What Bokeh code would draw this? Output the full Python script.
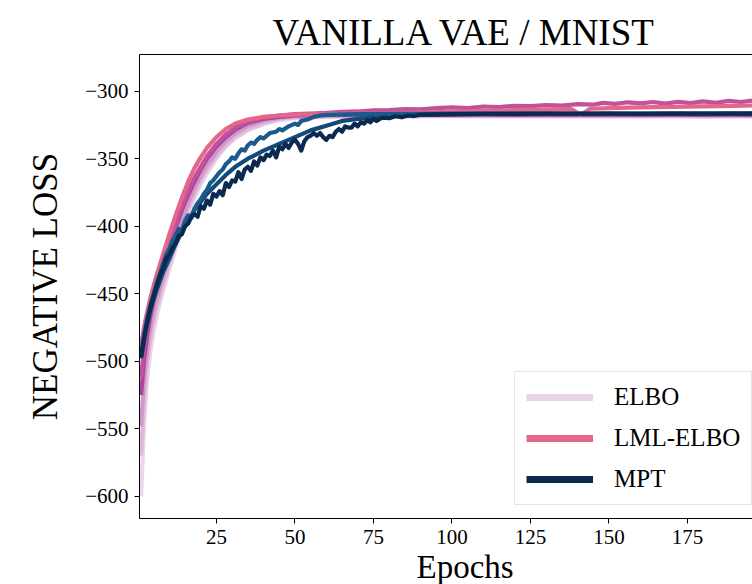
from bokeh.plotting import figure
from bokeh.models import (Range1d, FixedTicker, LinearAxis, Legend, LegendItem,
                          Title)
from bokeh.embed import file_html
from bokeh.resources import INLINE

# ---------------- data ----------------
TITLE = "VANILLA VAE / MNIST"
Y_LABEL = "NEGATIVE LOSS"
X_LABEL = "Epochs"
x_ticks = [25, 50, 75, 100, 125, 150, 175]
y_ticks = [-600, -550, -500, -450, -400, -350, -300]
legend_labels = ["ELBO", "LML-ELBO", "MPT"]

smooth_epochs = [1, 2, 3, 4, 5, 6, 8, 10, 12, 14, 16, 18, 20, 22, 25, 28, 31, 35, 40, 45,
                 50, 60, 70, 80, 90, 100, 110, 120, 130, 140, 150, 160, 170, 180, 190, 200]

elbo_1 = [-600, -545, -512, -492, -478, -466, -448, -432, -417, -403, -390, -379, -369, -361,
          -350, -341, -335, -329, -324.5, -321.5, -320, -319, -318.6, -318.6, -318.7, -318.5,
          -318.8, -318.6, -318.8, -318.7, -318.9, -318.9, -318.8, -319, -318.9, -319]
elbo_2 = [-570, -527, -500, -483, -470, -460, -443, -428, -413, -399, -387, -376, -366, -358,
          -348, -340, -333.5, -328, -323.5, -320.5, -319.2, -318.6, -318.3, -318.4, -318.2,
          -318.3, -318.1, -318.3, -318.2, -318.4, -318.2, -318.3, -318.2, -318.4, -318.3, -318.3]
elbo_3 = [-548, -512, -490, -475, -463, -454, -438, -423, -408, -395, -383, -372, -363, -355,
          -345, -337, -331, -325.5, -321.8, -319.6, -318.6, -318.1, -317.9, -318, -317.8, -317.9,
          -317.8, -318, -317.9, -317.8, -318, -317.9, -317.8, -317.9, -318, -317.9]
purple = [-525, -498, -480, -466, -455, -446, -430, -415, -401, -388, -377, -367, -358, -350,
          -341, -334, -328.5, -323.5, -320.5, -319, -318, -317.6, -317.5, -317.6, -317.4, -317.5,
          -317.3, -317.5, -317.4, -317.5, -317.3, -317.5, -317.4, -317.5, -317.4, -317.5]

pink_epochs = [1, 2, 3, 4, 5, 6, 8, 10, 12, 14, 16, 18, 20, 22, 25, 28, 31, 35, 40, 45, 50,
               60, 70, 80, 90, 100, 110, 120, 130, 138, 141, 144, 150, 160, 170, 180, 190, 200]
lml_pink = [-488, -474, -463, -453, -444, -436, -421, -406, -392, -379, -367, -357, -349, -342,
            -334, -328, -324, -321, -319, -318, -317.4, -317, -316.6, -316.2, -315.8, -315.2,
            -314.6, -314, -313.5, -313.2, -317.5, -313, -312.5, -312, -311.6, -311.2, -310.8, -310.4]

magenta_epochs = [1, 2, 3, 4, 5, 6, 8, 10, 12, 14, 16, 18, 20, 22, 25, 28, 31, 35, 40, 45, 50,
                  55, 60, 65, 70, 75, 80, 85, 90, 95, 100, 105, 110, 115, 120, 125, 130, 135,
                  140, 145, 148, 152, 156, 160, 164, 168, 172, 176, 180, 184, 188, 192, 196, 200]
lml_magenta = [-512, -490, -474, -461, -451, -442, -427, -412, -398, -385, -374, -364, -356, -348,
               -339, -332, -327, -322.5, -319.5, -318, -317, -316.5, -316, -315.2, -315, -314.2,
               -314, -313.2, -313.5, -312.5, -312, -312.5, -311.3, -311.8, -310.8, -311, -310.2,
               -310.6, -309.5, -310, -308.6, -309.4, -308.2, -309, -308, -309.2, -307.8, -308.8,
               -307.5, -308.6, -307.2, -308, -306.8, -307.4]

navy_epochs = [1, 2, 3, 4, 5, 6, 7, 8, 9, 10, 11, 12, 13, 14, 15, 16, 17, 18, 19, 20, 21, 22, 23,
               24, 25, 26, 27, 28, 29, 30, 31, 32, 33, 34, 35, 36, 37, 38, 39, 40, 41, 42, 43, 44,
               45, 46, 47, 48, 49, 50, 51, 52, 53, 54, 55, 56, 57, 58, 59, 60, 61, 62, 63, 64, 65,
               66, 67, 68, 69, 70, 71, 72, 73, 74, 75, 76, 77, 78, 80, 82, 84, 86, 88, 90, 100,
               110, 120, 130, 140, 150, 160, 170, 180, 190, 200]
mpt_navy = [-497, -482, -470, -460, -452, -444, -437, -431, -424, -421, -416, -413, -407, -406,
            -400, -398, -393, -391, -393, -385, -387, -381, -384, -376, -378, -374, -377, -368,
            -371, -366, -367, -360, -365, -358, -356, -359, -352, -355, -349, -351, -347, -348,
            -344, -349, -341, -343, -339, -342, -338, -336, -339, -344, -337, -334, -333, -331,
            -333, -331, -334, -336, -333, -334, -330, -328, -330, -326, -327, -327, -324, -326,
            -323, -324, -321.5, -323, -320.5, -322, -320.5, -319.5, -320, -318.5, -319.3, -318, -318.4, -317.3,
            -316.9, -316.7, -316.8, -316.6, -316.7, -316.6, -316.7, -316.6, -316.7, -316.6, -316.6]

blue_epochs = [1, 2, 3, 4, 5, 6, 7, 8, 9, 10, 11, 12, 13, 14, 15, 16, 17, 18, 19, 20, 21, 22, 23,
               24, 25, 26, 27, 28, 29, 30, 31, 32, 33, 34, 35, 36, 37, 38, 39, 40, 42, 44, 45, 46,
               48, 50, 51, 52, 54, 56, 58, 60, 70, 80, 90, 100, 120, 140, 160, 180, 200]
mpt_blue = [-495, -480, -468, -458, -450, -442, -435, -428, -421, -417, -411, -407, -402, -403,
            -396, -392, -394, -387, -383, -380, -376, -373, -368, -366, -363, -360, -358, -354,
            -352, -349, -350, -346, -343, -344, -340, -338, -339, -336, -334, -335, -331, -330,
            -328, -329, -326, -324, -325, -322, -321, -319, -318, -317.5, -317, -316.8, -316.7,
            -316.6, -316.6, -316.5, -316.6, -316.5, -316.5]

mid_epochs = [1, 2, 3, 4, 5, 6, 8, 10, 12, 14, 16, 18, 20, 22, 25, 28, 31, 35, 40, 45, 50, 55,
              60, 65, 70, 75, 80, 90, 100, 120, 140, 160, 180, 200]
mpt_mid = [-498, -484, -472, -462, -454, -447, -434, -424, -413, -404, -396, -388, -382, -376,
           -369, -362, -356, -350, -344, -339, -334, -329, -325.5, -322, -320.5, -319.5, -318.5,
           -317.5, -317, -316.8, -316.7, -316.7, -316.6, -316.6]

# ---------------- figure ----------------
p = figure(width=752, height=584, output_backend="svg", toolbar_location=None,
           x_range=Range1d(0.5, 195.7), y_range=Range1d(-616.5, -272.8),
           min_border_left=139, min_border_right=0, min_border_top=54, min_border_bottom=65,
           outline_line_color=None, background_fill_color="white",
           border_fill_color="white")
p.grid.visible = False

FONT = "Liberation Serif"
LW = 4.2

series = [
    (smooth_epochs, elbo_1, "#ecd6ea"),
    (smooth_epochs, elbo_2, "#e0b8da"),
    (smooth_epochs, elbo_3, "#cf98c8"),
    (smooth_epochs, purple, "#ab469f"),
    (magenta_epochs, lml_magenta, "#c2509b"),
    (pink_epochs, lml_pink, "#e4678b"),
    (mid_epochs, mpt_mid, "#124a7c"),
    (blue_epochs, mpt_blue, "#1b5a8d"),
    (navy_epochs, mpt_navy, "#0b2a4f"),
]
for xs, ys, c in series:
    p.line(x=xs, y=ys, line_color=c, line_width=LW, line_join="round")

for ax in (p.xaxis[0], p.yaxis[0]):
    ax.axis_line_color = "black"
    ax.major_tick_line_color = "black"
    ax.minor_tick_line_color = None
    ax.major_tick_in = 0
    ax.major_tick_out = 5
    ax.major_label_text_font = FONT
    ax.major_label_text_font_size = "21px"
    ax.major_label_text_color = "black"
    ax.major_label_standoff = 6

p.xaxis.ticker = FixedTicker(ticks=x_ticks)
p.yaxis.ticker = FixedTicker(ticks=y_ticks)
p.yaxis.major_label_overrides = {v: "\u2212" + str(abs(v)) for v in y_ticks}
p.yaxis.axis_label = Y_LABEL
p.yaxis.axis_label_text_font = FONT
p.yaxis.axis_label_text_font_size = "35px"
p.yaxis.axis_label_text_font_style = "normal"
p.yaxis.axis_label_text_color = "black"
p.yaxis.axis_label_standoff = 17

# top border line (frame is cropped on the right, as in the original)
top_axis = LinearAxis(ticker=FixedTicker(ticks=[]), axis_line_color="black",
                      major_tick_line_color=None, minor_tick_line_color=None,
                      major_label_text_font_size="0px")
p.add_layout(top_axis, "above")

p.add_layout(Title(text=TITLE, align="left", offset=133, text_font=FONT,
                   text_font_size="37px", text_font_style="normal",
                   text_color="black", standoff=4), "above")
p.add_layout(Title(text=X_LABEL, align="left", offset=277, text_font=FONT,
                   text_font_size="33px", text_font_style="normal",
                   text_color="black", standoff=0), "below")

# legend with thicker handles (renderers holding a single NaN point draw nothing in the plot)
legend_colors = ["#e8d3ea", "#e5688b", "#0b2a50"]
items = []
for lab, c in zip(legend_labels, legend_colors):
    r = p.line(x=[float("nan")], y=[float("nan")], line_color=c, line_width=7)
    items.append(LegendItem(label=lab, renderers=[r]))
legend = Legend(items=items, location=(375, 13), label_text_font=FONT,
                label_text_font_size="25px", label_text_color="black",
                glyph_width=67, glyph_height=26, label_height=26, spacing=13,
                padding=11, margin=0, label_standoff=21,
                border_line_color="#cccccc", border_line_width=1,
                background_fill_color="white", background_fill_alpha=0.85)
p.add_layout(legend, "center")

open("out.html", "w").write(file_html(p, INLINE))
